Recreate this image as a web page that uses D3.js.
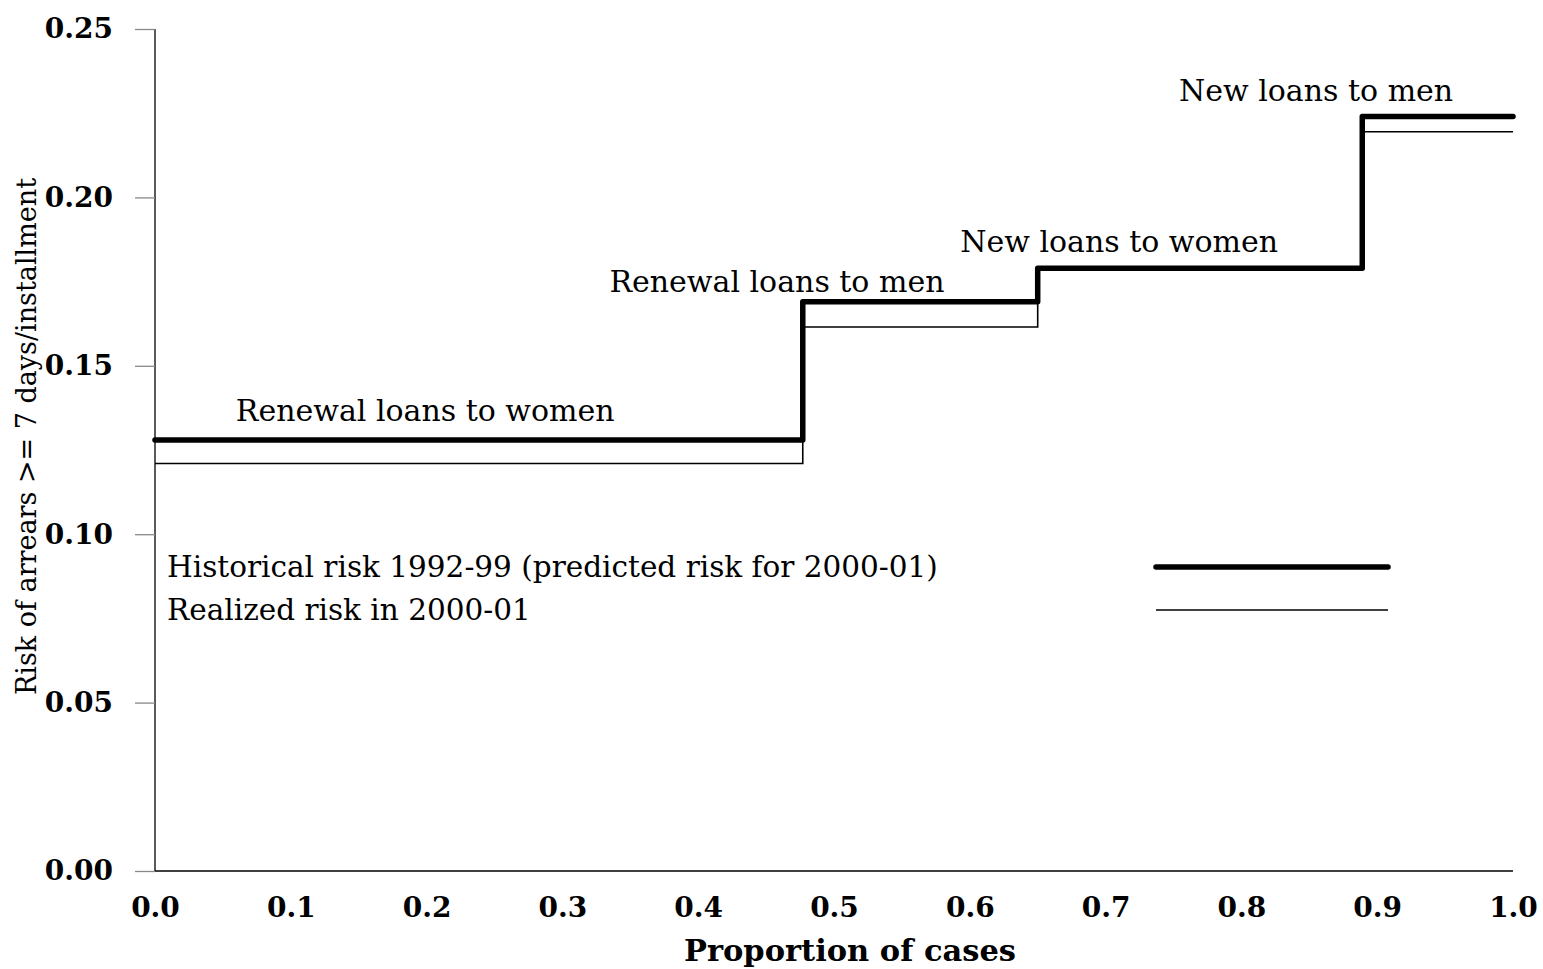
<!DOCTYPE html>
<html>
<head>
<meta charset="utf-8">
<script src="https://cdn.jsdelivr.net/npm/d3@7"></script>
<style>
  html, body { margin: 0; padding: 0; background: #fff; }
  svg { display: block; }
  text { font-family: "DejaVu Serif", "Liberation Serif", serif; fill: #000; }
</style>
</head>
<body>
<svg id="chart" width="1543" height="969"></svg>
<script>
// Loan groups, ordered by risk; each step begins at the cumulative share of cases
const groups = ["Renewal loans to women", "Renewal loans to men", "New loans to women", "New loans to men"];
const stepStart = [0, 0.477, 0.65, 0.889];
const stepEnd = 1.0;
const historicalRisk = [0.128, 0.169, 0.179, 0.224];
const realizedRisk = [0.121, 0.1615, 0.179, 0.2195];

// Label anchors (centre x in share of cases, baseline in risk units)
const labelX = [0.199, 0.458, 0.710, 0.855];
const labelY = [0.1336, 0.1719, 0.1838, 0.2286];

const xTicks = [0, 0.1, 0.2, 0.3, 0.4, 0.5, 0.6, 0.7, 0.8, 0.9, 1.0];
const yTicks = [0, 0.05, 0.10, 0.15, 0.20, 0.25];

const legendLabels = ["Historical risk 1992-99 (predicted risk for 2000-01)", "Realized risk in 2000-01"];

const svg = d3.select("#chart");
const x = d3.scaleLinear().domain([0, 1]).range([155, 1513]);
const y = d3.scaleLinear().domain([0, 0.25]).range([871, 29]);

const serif = "'DejaVu Serif', serif";

// Axes
const yAxis = svg.append("g").attr("transform", `translate(${x(0)},0)`)
  .call(d3.axisLeft(y).tickValues(yTicks).tickFormat(d3.format(".2f")).tickSize(20).tickPadding(22));
yAxis.select(".domain").attr("stroke", "#000").attr("stroke-width", 1.3).attr("d", `M0,${y(0.25)}V${y(0)}`);
yAxis.selectAll(".tick line").attr("stroke", "#888").attr("stroke-width", 1.3);
yAxis.selectAll(".tick text")
  .style("font-family", serif).style("font-weight", "bold").style("font-size", "28px");

const xAxis = svg.append("g").attr("transform", `translate(0,${y(0)})`)
  .call(d3.axisBottom(x).tickValues(xTicks).tickFormat(d3.format(".1f")).tickSize(0).tickPadding(26));
xAxis.select(".domain").attr("stroke", "#000").attr("stroke-width", 1.3).attr("d", `M${x(0)},0H${x(1)}`);
xAxis.selectAll(".tick text")
  .style("font-family", serif).style("font-weight", "bold").style("font-size", "28px");

// Axis titles
svg.append("text")
  .attr("x", 850).attr("y", 961)
  .attr("text-anchor", "middle")
  .style("font-weight", "bold").style("font-size", "30.5px")
  .text("Proportion of cases");

svg.append("text")
  .attr("transform", `translate(36,${y(0.129)}) rotate(-90)`)
  .attr("text-anchor", "middle")
  .style("font-size", "27px")
  .text("Risk of arrears >= 7 days/installment");

// Step lines
const toPoints = vals => stepStart.map((s, i) => [s, vals[i]]).concat([[stepEnd, vals[vals.length - 1]]]);
const line = d3.line().x(d => x(d[0])).y(d => y(d[1])).curve(d3.curveStepAfter);

svg.append("path")
  .datum(toPoints(realizedRisk))
  .attr("d", line)
  .attr("fill", "none").attr("stroke", "#000").attr("stroke-width", 1.6);

svg.append("path")
  .datum(toPoints(historicalRisk))
  .attr("d", line)
  .attr("fill", "none").attr("stroke", "#000").attr("stroke-width", 5.5)
  .attr("stroke-linecap", "round").attr("stroke-linejoin", "round");

// Group labels
svg.selectAll("text.group")
  .data(groups)
  .join("text")
  .attr("class", "group")
  .attr("x", (d, i) => x(labelX[i]))
  .attr("y", (d, i) => y(labelY[i]))
  .attr("text-anchor", "middle")
  .style("font-size", "30px")
  .text(d => d);

// Legend
const legend = svg.append("g");
const legendRows = [
  { label: legendLabels[0], ty: 577, ly: 567, w: 5.5 },
  { label: legendLabels[1], ty: 620, ly: 610, w: 1.6 }
];
legendRows.forEach(r => {
  legend.append("text").attr("x", 167).attr("y", r.ty).style("font-size", "29.5px").text(r.label);
  legend.append("line")
    .attr("x1", 1156).attr("x2", 1388).attr("y1", r.ly).attr("y2", r.ly)
    .attr("stroke", "#000").attr("stroke-width", r.w)
    .attr("stroke-linecap", r.w > 2 ? "round" : "butt");
});
</script>
</body>
</html>
